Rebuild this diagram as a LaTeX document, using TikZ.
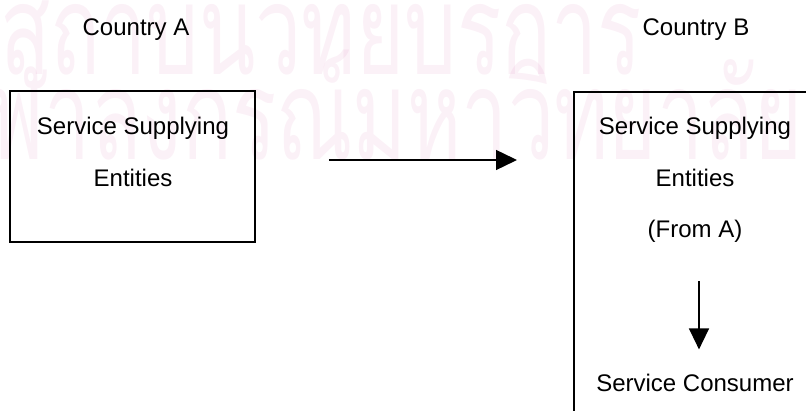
\documentclass[tikz,border=0pt]{standalone}
\usepackage{fontspec}
\setmainfont{Liberation Sans}
\newfontfamily\thaifont[Script=Thai, FakeStretch=0.66]{Loma}
\usetikzlibrary{positioning,arrows.meta}
\definecolor{markpink}{rgb}{0.8,0.3,0.6}

\begin{document}
\begin{tikzpicture}[x=1pt, y=-1pt, >={Triangle[length=21pt,width=20pt]},
  every node/.style={font=\fontsize{24}{28}\selectfont, inner sep=0pt},
  label text/.style={anchor=base},
  mark text/.style={anchor=base west, text=markpink, text opacity=0.08,
    font=\thaifont\fontsize{125}{125}\selectfont},
  frame/.style={draw, line width=1.6pt},
  flow/.style={->, line width=1.4pt}]

  \useasboundingbox (0,0) rectangle (806,411);
  \clip (0,0) rectangle (806,411);

  % watermark of the scanned page
  \node [mark text] (markTop) at (0,75) {สถาบันวิทยบริการ};
  \node [mark text] (markBottom) at (-60,160) {จุฬาลงกรณ์มหาวิทยาลัย};

  \node [frame, minimum width=245pt, minimum height=151pt] (boxA) at (132.5,166.5) {};
  \node [frame, anchor=north west, minimum width=260pt, minimum height=340pt] (boxB) at (573,91) {};

  \node [label text] (countryA) at (136,36) {Country A};
  \node [label text] (countryB) at (696,36) {Country B};

  \node [label text] (supplyA) at (133,135) {Service Supplying};
  \node [label text] (entitiesA) at (133,187) {Entities};

  \foreach \n/\t/\b in {supplyB/Service Supplying/135, entitiesB/Entities/187,
                        fromA/{(From A)}/238, consumer/Service Consumer/392}
  \node [label text] (\n) at (695,\b) {\t};

  \draw [flow, shorten <=73pt, shorten >=56pt]
    ([yshift=6.5pt]boxA.east) -- ([yshift=6.5pt]boxA.east -| boxB.west);

  \draw [flow, shorten <=38pt, shorten >=25pt]
    ([xshift=4pt]fromA.south) -- ([xshift=4pt]consumer.north);

\end{tikzpicture}
\end{document}
